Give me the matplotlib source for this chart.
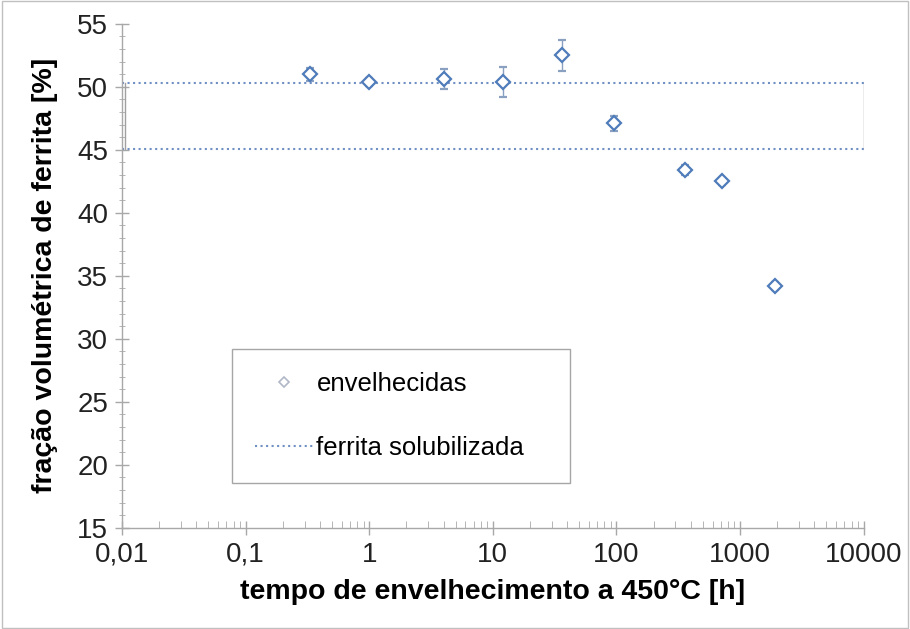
import matplotlib
matplotlib.use('Agg')
import matplotlib.pyplot as plt
from matplotlib.lines import Line2D
from matplotlib.patches import Rectangle
from matplotlib.ticker import FixedLocator, FuncFormatter, MultipleLocator, LogLocator

plt.rcParams['font.family'] = ['Liberation Sans', 'DejaVu Sans']

# aged samples
tempo = [0.33, 1.0, 4.0, 12.0, 36.0, 96.0, 360.0, 720.0, 1920.0]
ferrita = [51.0, 50.4, 50.6, 50.4, 52.5, 47.1, 43.4, 42.5, 34.2]
erro = [0.5, 0.3, 0.8, 1.2, 1.2, 0.6, 0.4, 0.3, 0.3]

# solubilized ferrite band
faixa_x = [0.01, 10000]
faixa_y = [45.1, 50.3]

xticks = [0.01, 0.1, 1, 10, 100, 1000, 10000]
xticklabels = ['0,01', '0,1', '1', '10', '100', '1000', '10000']

fig = plt.figure(figsize=(9.1, 6.29), dpi=100)
ax = fig.add_axes([0.134, 0.161, 0.815, 0.801])

blue = '#4f7cba'
band = '#7090c4'

# band drawn as dotted rectangle
ax.plot(faixa_x, [faixa_y[1], faixa_y[1]], ls=':', color=band, lw=1.5)
ax.plot(faixa_x, [faixa_y[0], faixa_y[0]], ls=':', color=band, lw=1.5)
ax.plot([faixa_x[0] * 1.06, faixa_x[0] * 1.06], faixa_y, color='#a0a0a0', lw=1.0)
ax.plot([faixa_x[1], faixa_x[1]], faixa_y, color='#a0a0a0', lw=1.0)

ax.errorbar(tempo, ferrita, yerr=erro, fmt='D', ms=7, mfc='white', mec=blue, mew=1.6,
            ecolor='#8aa0c0', elinewidth=1, capsize=3)

ax.set_xscale('log')
ax.set_xlim(0.01, 10000)
ax.set_ylim(15, 55)

ax.xaxis.set_major_locator(FixedLocator(xticks))
ax.xaxis.set_major_formatter(FuncFormatter(lambda v, p: xticklabels[xticks.index(v)] if v in xticks else ''))
ax.xaxis.set_minor_locator(LogLocator(base=10, subs=range(2, 10)))
ax.xaxis.set_minor_formatter(FuncFormatter(lambda v, p: ''))
ax.yaxis.set_major_locator(MultipleLocator(5))
ax.yaxis.set_minor_locator(MultipleLocator(1))

for s in ['top', 'right']:
    ax.spines[s].set_visible(False)
for s in ['left', 'bottom']:
    ax.spines[s].set_color('#a8a8a8')
    ax.spines[s].set_linewidth(1.0)

ax.tick_params(axis='both', which='major', direction='inout', length=10, width=1,
               color='#a8a8a8', labelsize=20, labelcolor='#222222', pad=5)
ax.tick_params(axis='x', which='minor', direction='in', length=5, color='#a8a8a8')
ax.tick_params(axis='y', which='minor', direction='inout', length=5, color='#a8a8a8')

ax.set_xlabel('tempo de envelhecimento a 450°C [h]', fontsize=20.5, fontweight='bold', labelpad=8)
ax.set_ylabel('fração volumétrica de ferrita [%]', fontsize=20.5, fontweight='bold', labelpad=14)

handles = [Line2D([], [], ls='none', marker='D', ms=5, mfc='white', mec='#b0b8c8', mew=1.2),
           Line2D([], [], ls=':', color=band, lw=1.5)]
leg = ax.legend(handles, ['envelhecidas', 'ferrita solubilizada'], loc='upper left',
                bbox_to_anchor=(0.148, 0.0, 0.456, 0.355), mode='expand', fontsize=18.5,
                frameon=True, fancybox=False, edgecolor='#909090',
                labelspacing=1.55, handlelength=2.3, handletextpad=0.1, borderpad=0.9,
                borderaxespad=0)
leg.get_frame().set_linewidth(1.0)

fig.patches.append(Rectangle((0.002, 0.002), 0.996, 0.996, transform=fig.transFigure,
                             fill=False, edgecolor='#c0c0c0', lw=1))

fig.savefig('out.png', dpi=100)
